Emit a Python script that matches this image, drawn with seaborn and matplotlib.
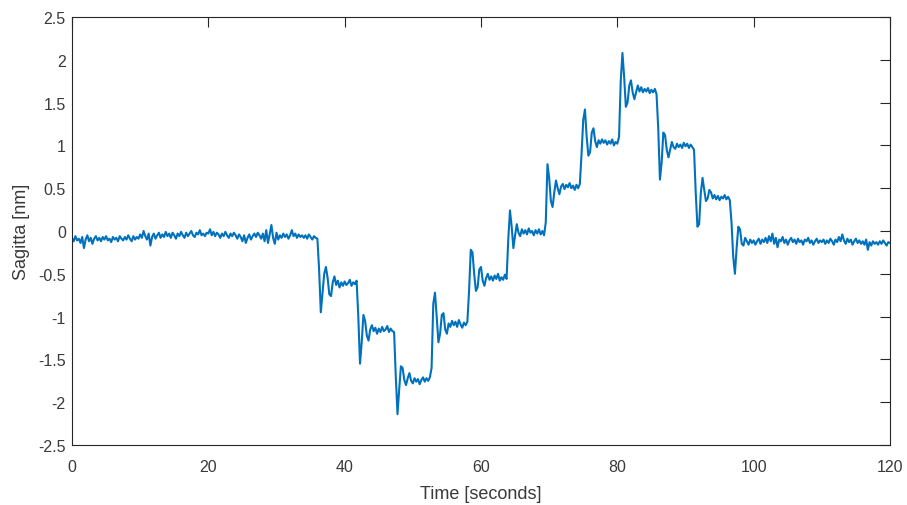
import numpy as np
import pandas as pd
import matplotlib
matplotlib.use("Agg")
import matplotlib.pyplot as plt
import seaborn as sns

# Sampling step of the hand-read trace (seconds)
dt = 0.25

# Sagitta [nm], every 0.25 s, in 10-second blocks
v000_010 = [-0.08, -0.12, -0.06, -0.11, -0.09, -0.14, -0.07, -0.20,
            -0.10, -0.05, -0.12, -0.08, -0.15, -0.09, -0.06, -0.11,
            -0.08, -0.12, -0.07, -0.10, -0.06, -0.11, -0.09, -0.13,
            -0.07, -0.10, -0.08, -0.12, -0.06, -0.09, -0.11, -0.07,
            -0.10, -0.05, -0.09, -0.12, -0.06, -0.10, -0.07, -0.09]
v010_020 = [-0.04, -0.08, 0.00, -0.06, -0.10, -0.03, -0.17, -0.07,
            -0.03, -0.09, -0.05, -0.02, -0.08, -0.04, -0.07, -0.01,
            -0.06, -0.03, -0.08, -0.02, -0.05, -0.09, -0.03, -0.06,
            -0.01, -0.05, -0.08, -0.02, -0.06, -0.03, 0.00, -0.05,
            -0.07, -0.02, -0.04, 0.01, -0.05, -0.03, -0.06, -0.02]
v020_030 = [-0.03, 0.02, -0.05, -0.01, -0.06, -0.02, -0.04, -0.08,
            -0.03, -0.06, -0.01, -0.05, -0.08, -0.03, -0.06, -0.02,
            -0.05, -0.09, -0.04, -0.07, -0.12, -0.05, -0.14, -0.08,
            -0.04, -0.10, -0.06, -0.03, -0.07, -0.02, -0.05, -0.09,
            -0.03, -0.12, 0.01, -0.14, -0.04, 0.07, -0.08, -0.15]
v030_040 = [-0.02, -0.10, -0.05, -0.08, -0.03, -0.07, -0.04, -0.09,
            -0.05, 0.01, -0.06, -0.03, -0.08, -0.04, -0.07, -0.05,
            -0.08, -0.05, -0.09, -0.04, -0.07, -0.10, -0.06, -0.08,
            -0.09, -0.45, -0.95, -0.72, -0.50, -0.42, -0.55, -0.74,
            -0.76, -0.60, -0.53, -0.63, -0.58, -0.66, -0.60, -0.64]
v040_050 = [-0.59, -0.63, -0.61, -0.57, -0.64, -0.60, -0.62, -0.58,
            -1.00, -1.55, -1.30, -0.98, -1.05, -1.22, -1.28, -1.15,
            -1.10, -1.17, -1.13, -1.20, -1.14, -1.18, -1.12, -1.17,
            -1.15, -1.11, -1.18, -1.14, -1.17, -1.18, -1.70, -2.14,
            -1.85, -1.58, -1.60, -1.74, -1.80, -1.72, -1.66, -1.75]
v050_060 = [-1.78, -1.72, -1.76, -1.73, -1.79, -1.74, -1.71, -1.76,
            -1.72, -1.75, -1.71, -1.60, -0.85, -0.72, -1.00, -1.30,
            -1.20, -0.98, -0.96, -1.15, -1.20, -1.08, -1.12, -1.05,
            -1.10, -1.06, -1.12, -1.04, -1.09, -1.13, -1.07, -1.10,
            -1.06, -0.70, -0.22, -0.25, -0.50, -0.70, -0.66, -0.45]
v060_070 = [-0.42, -0.58, -0.64, -0.55, -0.50, -0.57, -0.53, -0.58,
            -0.52, -0.56, -0.50, -0.58, -0.54, -0.57, -0.51, -0.56,
            -0.10, 0.24, 0.05, -0.20, -0.05, 0.08, -0.02, -0.06,
            0.02, -0.03, 0.01, -0.04, 0.03, -0.02, 0.00, -0.05,
            0.01, -0.03, 0.02, -0.04, 0.00, -0.05, 0.10, 0.78]
v070_080 = [0.62, 0.35, 0.28, 0.45, 0.59, 0.50, 0.43, 0.52,
            0.55, 0.49, 0.54, 0.51, 0.56, 0.50, 0.53, 0.48,
            0.54, 0.50, 0.55, 0.90, 1.30, 1.42, 1.10, 0.88,
            0.92, 1.15, 1.20, 1.05, 0.98, 1.06, 1.02, 1.07,
            1.03, 1.06, 1.01, 1.05, 1.02, 1.07, 1.00, 1.04]
v080_090 = [1.02, 1.10, 1.75, 2.08, 1.80, 1.45, 1.50, 1.70,
            1.76, 1.62, 1.54, 1.62, 1.70, 1.63, 1.68, 1.62,
            1.66, 1.63, 1.67, 1.61, 1.65, 1.62, 1.66, 1.60,
            1.20, 0.60, 0.80, 1.15, 1.12, 0.95, 0.86, 0.95,
            1.04, 0.98, 0.96, 1.02, 0.98, 1.01, 0.97, 1.03]
v090_100 = [0.99, 1.02, 0.97, 1.01, 0.98, 0.95, 0.45, 0.05,
            0.08, 0.45, 0.62, 0.48, 0.35, 0.38, 0.48, 0.45,
            0.38, 0.42, 0.37, 0.41, 0.36, 0.40, 0.38, 0.42,
            0.37, 0.40, 0.36, 0.10, -0.30, -0.50, -0.20, 0.05,
            0.02, -0.15, -0.17, -0.08, -0.12, -0.16, -0.10, -0.14]
v100_110 = [-0.11, -0.16, -0.12, -0.09, -0.15, -0.10, -0.13, -0.08,
            -0.14, -0.06, -0.12, -0.03, -0.15, -0.08, -0.19, -0.10,
            -0.12, -0.07, -0.14, -0.10, -0.16, -0.11, -0.08, -0.13,
            -0.10, -0.15, -0.09, -0.13, -0.11, -0.16, -0.10, -0.12,
            -0.08, -0.14, -0.11, -0.16, -0.12, -0.09, -0.14, -0.11]
v110_120 = [-0.13, -0.10, -0.15, -0.11, -0.14, -0.09, -0.12, -0.16,
            -0.10, -0.13, -0.07, -0.12, -0.04, -0.11, -0.15, -0.09,
            -0.13, -0.10, -0.16, -0.12, -0.09, -0.14, -0.11, -0.15,
            -0.12, -0.16, -0.10, -0.22, -0.13, -0.17, -0.12, -0.15,
            -0.13, -0.16, -0.12, -0.15, -0.11, -0.14, -0.17, -0.13,
            -0.14]

x_ticks = [0, 20, 40, 60, 80, 100, 120]
x_tick_labels = ["0", "20", "40", "60", "80", "100", "120"]
y_ticks = [-2.5, -2, -1.5, -1, -0.5, 0, 0.5, 1, 1.5, 2, 2.5]
y_tick_labels = ["-2.5", "-2", "-1.5", "-1", "-0.5", "0", "0.5", "1", "1.5", "2", "2.5"]

sagitta = (v000_010 + v010_020 + v020_030 + v030_040 + v040_050 + v050_060
           + v060_070 + v070_080 + v080_090 + v090_100 + v100_110 + v110_120)
time = np.arange(len(sagitta)) * dt
df = pd.DataFrame({"Time": time, "Sagitta": sagitta})

sns.set_theme(style="white")
plt.rcParams["font.family"] = ["Liberation Sans", "DejaVu Sans"]

edge = "#262626"
text_c = "#3a3a3a"
fig = plt.figure(figsize=(9.07, 5.06), dpi=100)
ax = fig.add_axes([72 / 907, 1 - 446 / 506, (890 - 72) / 907, (446 - 18) / 506])

sns.lineplot(data=df, x="Time", y="Sagitta", ax=ax, color="#0072BD",
             linewidth=1.5, estimator=None, sort=False)

ax.set_xlim(0, 120)
ax.set_ylim(-2.5, 2.5)
ax.set_xticks(x_ticks)
ax.set_xticklabels(x_tick_labels)
ax.set_yticks(y_ticks)
ax.set_yticklabels(y_tick_labels)
ax.tick_params(direction="in", length=7, width=0.8, color=edge,
               labelcolor=text_c, labelsize=11.5, top=True, right=True)
ax.tick_params(axis="x", pad=10)
ax.tick_params(axis="y", pad=4.5)
for s in ax.spines.values():
    s.set_color(edge)
    s.set_linewidth(0.8)
    s.set_visible(True)
ax.set_xlabel("Time [seconds]", fontsize=13, color=text_c)
ax.set_ylabel("Sagitta [nm]", fontsize=13, color=text_c)
ax.xaxis.set_label_coords(0.5, -0.093)
ax.yaxis.set_label_coords(-0.051, 0.5)
ax.grid(False)

fig.savefig("out.png", dpi=100)
